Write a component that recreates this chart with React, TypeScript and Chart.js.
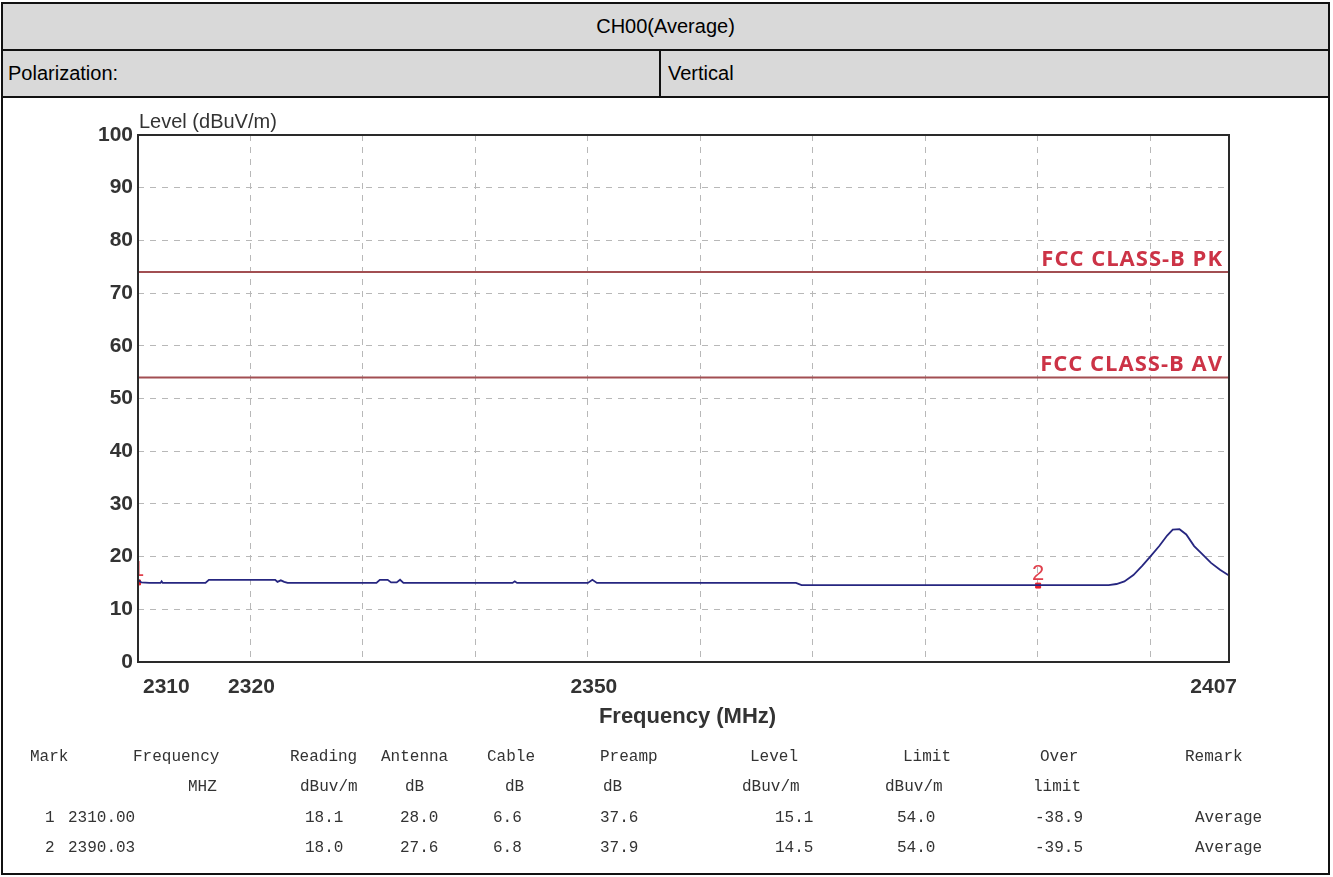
import React, { useEffect, useRef } from "react";
import { Chart, registerables } from "chart.js";

Chart.register(...registerables);

// ---- data ----
const traceFreq = [
  2310.0, 2310.3, 2311.0, 2312.0, 2312.1, 2312.2, 2316.0, 2316.3, 2322.2, 2322.4,
  2322.7, 2323.0, 2323.3, 2331.2, 2331.5, 2332.2, 2332.5, 2333.0, 2333.3, 2333.6,
  2343.3, 2343.5, 2343.7, 2350.0, 2350.4, 2350.8, 2368.5, 2369.0, 2396.3, 2397.0,
  2397.7, 2398.5, 2399.3, 2400.0, 2400.8, 2401.5, 2402.0, 2402.6, 2403.2, 2403.9,
  2404.6, 2405.4, 2406.2, 2407.0,
];
const traceLevel = [
  15.6, 15.1, 15.0, 15.0, 15.3, 15.0, 15.0, 15.6, 15.6, 15.2,
  15.5, 15.2, 15.0, 15.0, 15.6, 15.6, 15.1, 15.1, 15.6, 15.0,
  15.0, 15.3, 15.0, 15.0, 15.6, 15.0, 15.0, 14.6, 14.6, 14.8,
  15.3, 16.5, 18.3, 20.0, 22.0, 24.0, 25.1, 25.2, 24.2, 22.0,
  20.5, 18.8, 17.5, 16.4,
];
const limitNames = ["FCC CLASS-B PK", "FCC CLASS-B AV"];
const limitValues = [74, 54];
const markerNames = ["1", "2"];
const markerFreq = [2310.0, 2390.03];
const markerLevel = [15.1, 14.5];
const xMin = 2310;
const xMax = 2407;
const xGridValues = [2310, 2320, 2330, 2340, 2350, 2360, 2370, 2380, 2390, 2400, 2407];
const xLabelValues = [2310, 2320, 2350, 2407];
const yMin = 0;
const yMax = 100;
const yStep = 10;

const tableHead1 = ["Mark", "Frequency", "Reading", "Antenna", "Cable", "Preamp", "Level", "Limit", "Over", "Remark"];
const tableHead2 = ["", "MHZ", "dBuv/m", "dB", "dB", "dB", "dBuv/m", "dBuv/m", "limit", ""];
const tableRow1 = ["1", "2310.00", "18.1", "28.0", "6.6", "37.6", "15.1", "54.0", "-38.9", "Average"];
const tableRow2 = ["2", "2390.03", "18.0", "27.6", "6.8", "37.9", "14.5", "54.0", "-39.5", "Average"];

// column left positions per row (layout)
const head1X = [30, 133, 290, 381, 487, 600, 750, 903, 1040, 1185];
const head2X = [0, 188, 300, 405, 505, 603, 742, 885, 1033, 0];
const rowX = [45, 68, 305, 400, 493, 600, 775, 897, 1035, 1195];
const rowY = [757, 787, 818, 848];

const FONT = 'Arial, "Liberation Sans", sans-serif';

const overlayPlugin = {
  id: "overlay",
  afterDatasetsDraw(chart: any) {
    const { ctx, chartArea: ca, scales } = chart;
    const x = scales.x;
    const y = scales.y;
    ctx.save();
    // frame
    ctx.strokeStyle = "#2a2a2a";
    ctx.lineWidth = 2;
    ctx.strokeRect(ca.left, ca.top, ca.right - ca.left, ca.bottom - ca.top);

    // limit labels
    ctx.fillStyle = "#cc3346";
    ctx.font = 'bold 22px "Open Sans", Arial, sans-serif';
    try {
      (ctx as any).letterSpacing = "1px";
    } catch (e) {}
    ctx.textAlign = "right";
    ctx.textBaseline = "alphabetic";
    limitNames.forEach((t, i) => {
      ctx.fillText(t, ca.right - 6, y.getPixelForValue(limitValues[i]) - 6);
    });
    try {
      (ctx as any).letterSpacing = "0px";
    } catch (e) {}

    // marker labels
    ctx.save();
    ctx.beginPath();
    ctx.rect(ca.left + 1, ca.top, ca.right - ca.left, ca.bottom - ca.top);
    ctx.clip();
    ctx.fillStyle = "#e0404c";
    ctx.font = "22px " + FONT;
    ctx.textAlign = "center";
    markerNames.forEach((t, i) => {
      ctx.fillText(t, x.getPixelForValue(markerFreq[i]), y.getPixelForValue(markerLevel[i]) - 6);
    });
    ctx.restore();

    // x tick labels
    ctx.fillStyle = "#333";
    ctx.font = "bold 21px " + FONT;
    ctx.textBaseline = "middle";
    xLabelValues.forEach((v, i) => {
      const px = x.getPixelForValue(v);
      if (i === 0) {
        ctx.textAlign = "left";
        ctx.fillText(String(v), px + 5, ca.bottom + 25);
      } else if (i === xLabelValues.length - 1) {
        ctx.textAlign = "right";
        ctx.fillText(String(v), px + 8, ca.bottom + 25);
      } else {
        ctx.textAlign = "center";
        ctx.fillText(String(v), px + (v === 2350 ? 6 : 1), ca.bottom + 25);
      }
    });

    // axis titles
    ctx.textAlign = "center";
    ctx.font = "bold 22px " + FONT;
    ctx.fillText("Frequency (MHz)", (ca.left + ca.right) / 2 + 4, ca.bottom + 55);
    ctx.textAlign = "left";
    ctx.textBaseline = "bottom";
    ctx.font = "20px " + FONT;
    ctx.fillText("Level (dBuV/m)", ca.left + 1, ca.top - 3);
    ctx.restore();
  },
};

export default function App() {
  const ref = useRef<HTMLCanvasElement>(null);

  useEffect(() => {
    const trace = traceFreq.map((f, i) => ({ x: f, y: traceLevel[i] }));
    const limits = limitValues.map((v) => [
      { x: xMin, y: v },
      { x: xMax, y: v },
    ]);
    const markers = markerFreq.map((f, i) => ({ x: f, y: markerLevel[i] }));

    const chart = new Chart(ref.current as HTMLCanvasElement, {
      type: "line",
      data: {
        datasets: [
          ...limits.map((d, i) => ({
            label: limitNames[i],
            data: d,
            borderColor: "#a24f52",
            borderWidth: 2,
            pointRadius: 0,
          })),
          {
            label: "Trace",
            data: trace,
            borderColor: "#262680",
            borderWidth: 1.8,
            pointRadius: 0,
            tension: 0,
          },
          {
            label: "Markers",
            data: markers,
            showLine: false,
            pointStyle: "rect",
            pointRadius: 3.5,
            backgroundColor: "#e8202a",
            borderColor: "#e8202a",
          },
        ] as any,
      },
      options: {
        animation: false,
        responsive: false,
        devicePixelRatio: 1,
        layout: { padding: { left: 0, top: 38, right: 104, bottom: 0 } },
        plugins: { legend: { display: false }, tooltip: { enabled: false } },
        scales: {
          x: {
            type: "linear",
            min: xMin,
            max: xMax,
            afterBuildTicks: (s: any) => {
              s.ticks = xGridValues.map((v) => ({ value: v }));
            },
            afterFit: (s: any) => {
              s.height = 75;
            },
            ticks: { display: false },
            grid: {
              drawTicks: false,
              lineWidth: 1,
              color: (c: any) =>
                c.tick && (c.tick.value === xMin || c.tick.value === xMax) ? "rgba(0,0,0,0)" : "#b8b8b8",
            },
            border: { display: false, dash: [6, 6] },
          },
          y: {
            type: "linear",
            min: yMin,
            max: yMax,
            afterFit: (s: any) => {
              s.width = 138;
            },
            ticks: {
              stepSize: yStep,
              padding: 5,
              color: "#333",
              font: { family: FONT, size: 21, weight: "bold" },
            },
            grid: {
              drawTicks: false,
              lineWidth: 1,
              color: (c: any) =>
                c.tick && (c.tick.value === yMin || c.tick.value === yMax) ? "rgba(0,0,0,0)" : "#b8b8b8",
            },
            border: { display: false, dash: [6, 6] },
          },
        },
      } as any,
      plugins: [overlayPlugin],
    });
    return () => chart.destroy();
  }, []);

  const cell = (text: string, left: number, cy: number, key: string) =>
    text ? (
      <span
        key={key}
        style={{
          position: "absolute",
          left,
          top: cy - 10,
          height: 20,
          lineHeight: "20px",
          whiteSpace: "pre",
        }}
      >
        {text}
      </span>
    ) : null;

  return (
    <div
      style={{
        position: "absolute",
        left: 0,
        top: 0,
        width: 1333,
        height: 877,
        background: "#fff",
        overflow: "hidden",
        fontFamily: FONT,
      }}
    >
      {/* header backgrounds */}
      <div style={{ position: "absolute", left: 1, top: 2, width: 1329, height: 95, background: "#d9d9d9" }} />
      {/* outer frame */}
      <div
        style={{
          position: "absolute",
          left: 1,
          top: 2,
          width: 1329,
          height: 873,
          border: "2px solid #111",
          boxSizing: "border-box",
        }}
      />
      <div style={{ position: "absolute", left: 1, top: 49, width: 1329, height: 2, background: "#111" }} />
      <div style={{ position: "absolute", left: 1, top: 96, width: 1329, height: 2, background: "#111" }} />
      <div style={{ position: "absolute", left: 659, top: 49, width: 2, height: 48, background: "#111" }} />
      <div
        style={{
          position: "absolute",
          left: 1,
          top: 4,
          width: 1329,
          height: 45,
          lineHeight: "45px",
          textAlign: "center",
          fontSize: 20,
          color: "#000",
        }}
      >
        CH00(Average)
      </div>
      <div style={{ position: "absolute", left: 8, top: 51, height: 45, lineHeight: "45px", fontSize: 20, color: "#000" }}>
        Polarization:
      </div>
      <div style={{ position: "absolute", left: 668, top: 51, height: 45, lineHeight: "45px", fontSize: 20, color: "#000" }}>
        Vertical
      </div>

      <canvas
        ref={ref}
        width={1333}
        height={640}
        style={{ position: "absolute", left: 0, top: 97, width: 1333, height: 640 }}
      />

      <div
        style={{
          position: "absolute",
          left: 0,
          top: 0,
          width: 1333,
          height: 877,
          fontFamily: '"Courier New", "Liberation Mono", monospace',
          fontSize: 16,
          color: "#333",
          pointerEvents: "none",
        }}
      >
        {tableHead1.map((t, i) => cell(t, head1X[i], rowY[0], "h1" + i))}
        {tableHead2.map((t, i) => cell(t, head2X[i], rowY[1], "h2" + i))}
        {tableRow1.map((t, i) => cell(t, rowX[i], rowY[2], "r1" + i))}
        {tableRow2.map((t, i) => cell(t, rowX[i], rowY[3], "r2" + i))}
      </div>
    </div>
  );
}
